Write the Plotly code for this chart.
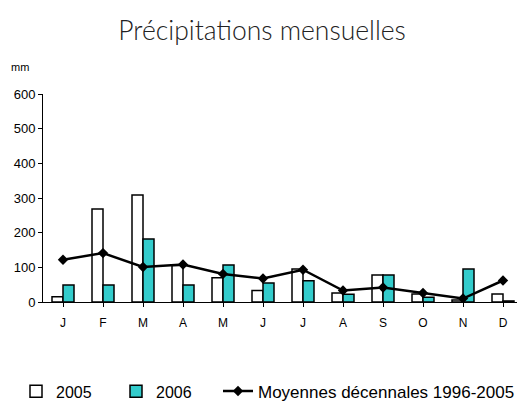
import plotly.graph_objects as go

months = ["J", "F", "M", "A", "M", "J", "J", "A", "S", "O", "N", "D"]
pluie_2005 = [15, 268, 309, 105, 70, 33, 95, 26, 78, 23, 6, 23]
pluie_2006 = [49, 49, 182, 49, 107, 55, 61, 22, 78, 14, 95, 3]
moyennes = [122, 141, 101, 108, 81, 68, 93, 33, 42, 26, 10, 62]
yticks = [0, 100, 200, 300, 400, 500, 600]

x = list(range(len(months)))

fig = go.Figure()
fig.add_trace(go.Bar(x=x, y=pluie_2005, name="2005", legend="legend",
                     marker=dict(color="white", line=dict(color="black", width=1.5))))
fig.add_trace(go.Bar(x=x, y=pluie_2006, name="2006", legend="legend",
                     marker=dict(color="#33CCCC", line=dict(color="black", width=1.5))))
fig.add_trace(go.Scatter(x=x, y=moyennes, name="Moyennes décennales 1996-2005", mode="lines+markers",
                         legend="legend2",
                         line=dict(color="black", width=2.5), marker=dict(symbol="diamond", size=8, color="black")))

fig.update_layout(
    width=517, height=403,
    margin=dict(l=43, r=0, t=94, b=101, autoexpand=False),
    paper_bgcolor="white", plot_bgcolor="white",
    barmode="group", bargap=0.45, bargroupgap=0,
    font=dict(family="Liberation Sans, Arial, sans-serif", size=12, color="black"),
    title=dict(text="Précipitations mensuelles", x=0.507, xanchor="center", y=0.925, yanchor="middle",
               font=dict(family="Lato", weight=300, size=26.5, color="#222")),
    showlegend=True,
    legend=dict(orientation="h", x=(16 - 43) / 474, xanchor="left", y=-0.43, yanchor="middle",
                font=dict(size=16), itemwidth=30, entrywidth=55),
    legend2=dict(orientation="h", x=(218 - 43) / 474, xanchor="left", y=-0.43, yanchor="middle",
                 font=dict(size=17), itemwidth=30),
    xaxis=dict(tickmode="array", tickvals=x, ticktext=months, range=[-0.5, 11.35],
               showline=True, linecolor="black", linewidth=1, ticks="outside", ticklen=4,
               tickson="boundaries", tickcolor="black", showgrid=False, zeroline=False,
               tickfont=dict(size=12), ticklabelstandoff=6),
    yaxis=dict(range=[0, 600], tickvals=yticks, showline=True, linecolor="black", linewidth=1,
               ticks="outside", ticklen=4, tickcolor="black", showgrid=False, zeroline=False,
               tickfont=dict(size=13)),
    annotations=[dict(text="mm", x=(20 - 43) / 474, y=(302 - 67) / 208, xref="paper", yref="paper",
                      xanchor="center", yanchor="middle", showarrow=False, font=dict(size=11))],
)

fig.write_html("out.html", config={"displayModeBar": False},
               post_script="document.body.style.margin='0';")
